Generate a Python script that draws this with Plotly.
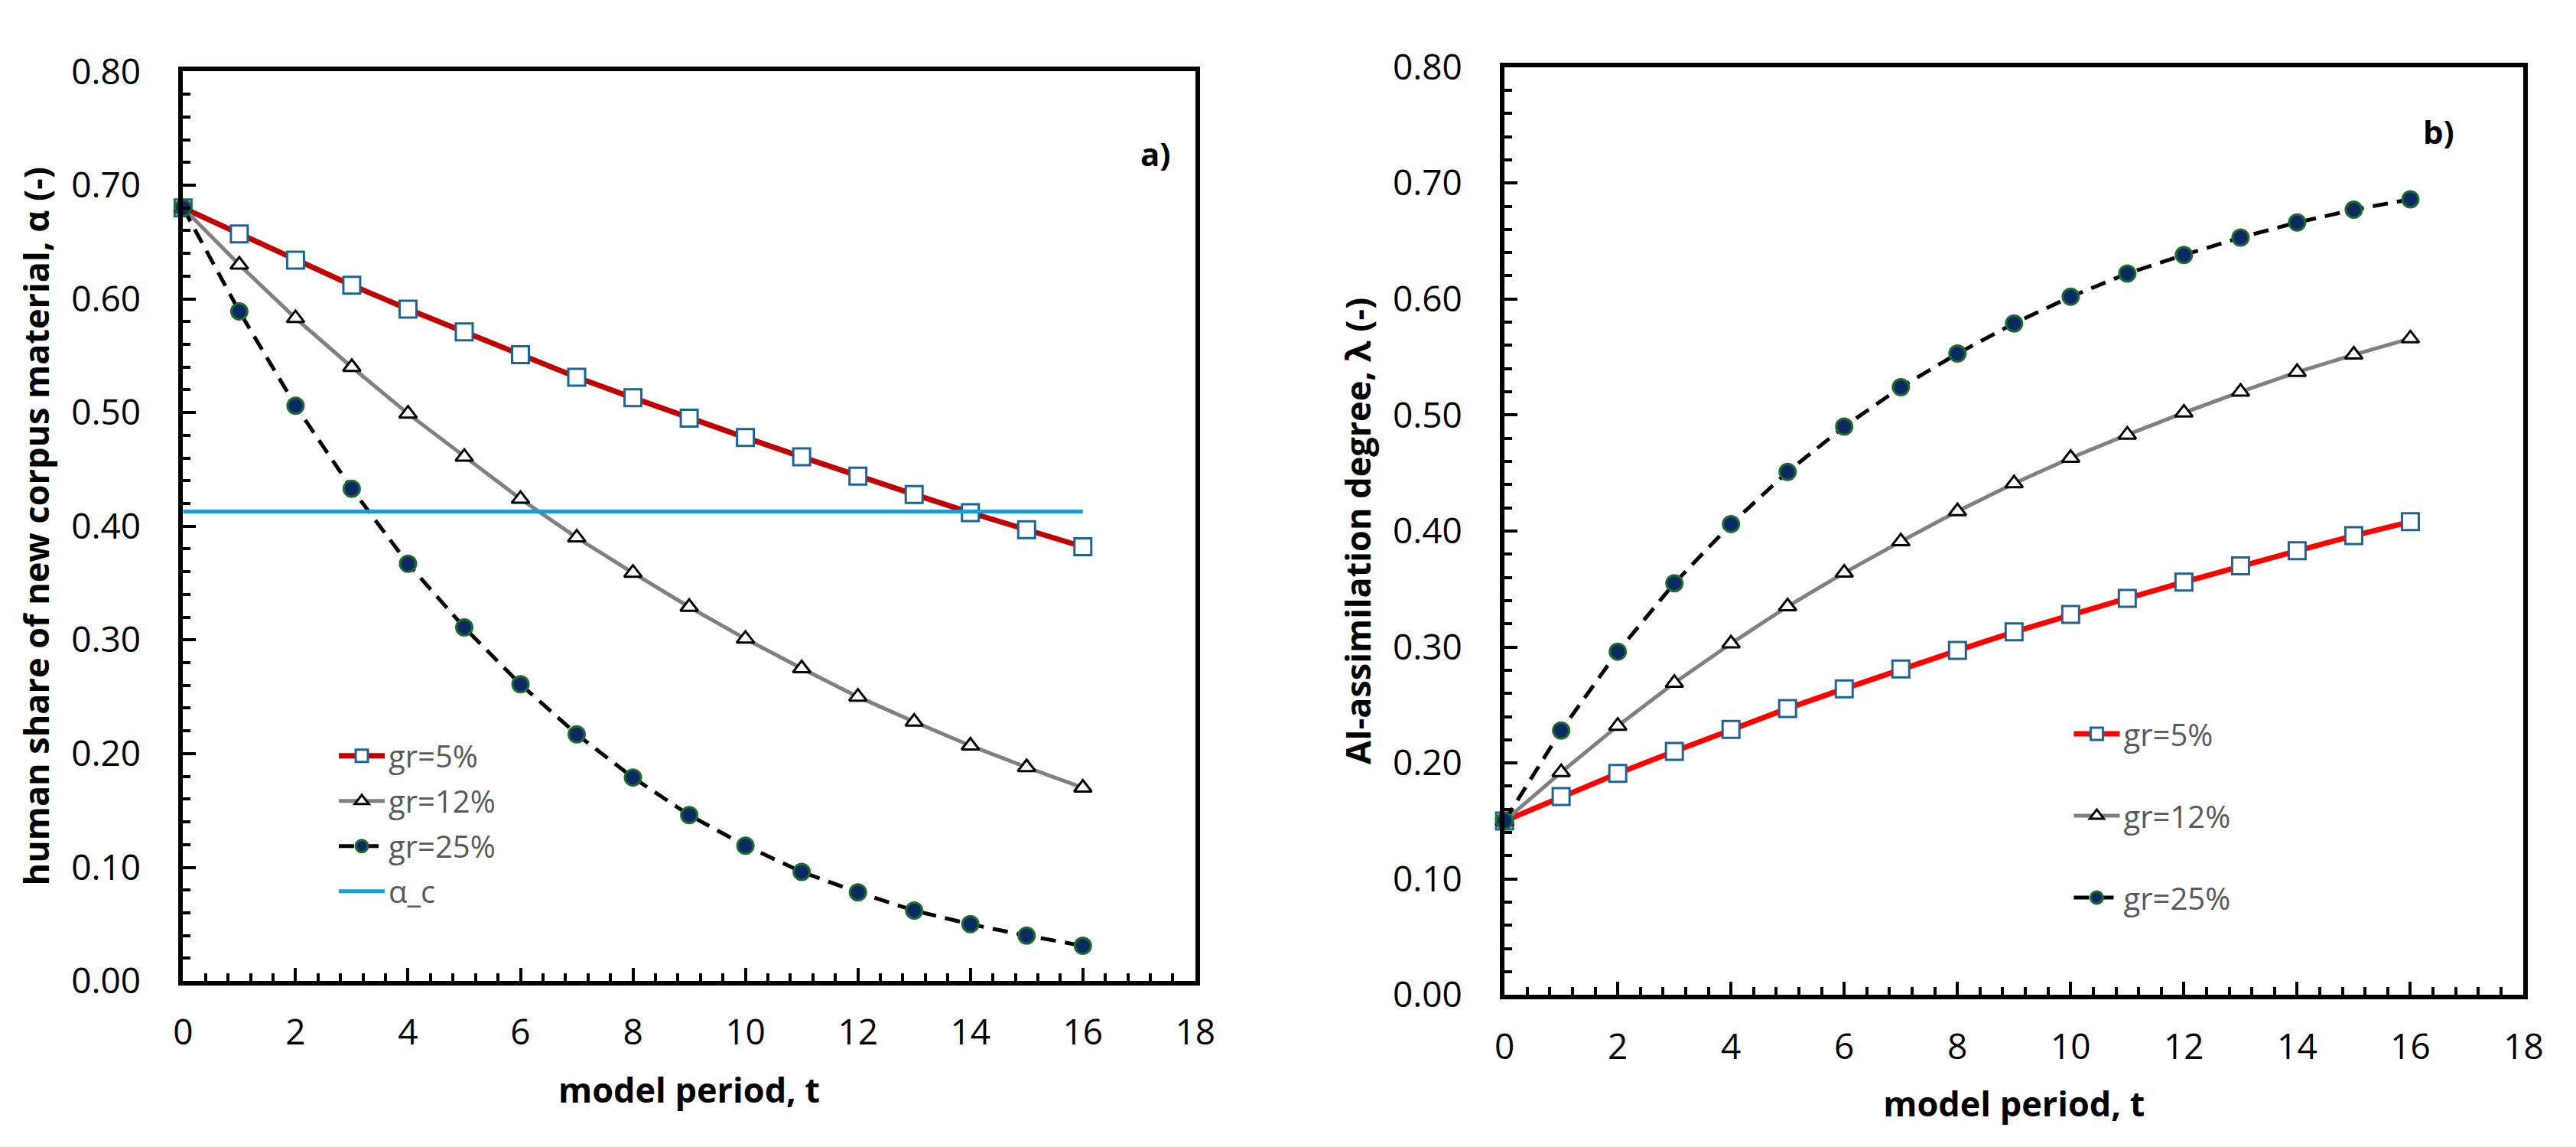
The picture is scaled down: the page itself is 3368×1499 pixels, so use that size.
import plotly.graph_objects as go

t = list(range(17))

alpha_gr5 = [0.680, 0.657, 0.634, 0.612, 0.591, 0.571, 0.551, 0.531, 0.513, 0.495,
             0.478, 0.461, 0.444, 0.428, 0.412, 0.397, 0.382]
alpha_gr12 = [0.680, 0.630, 0.583, 0.540, 0.499, 0.461, 0.424, 0.390, 0.359, 0.329,
              0.301, 0.275, 0.250, 0.228, 0.207, 0.188, 0.170]
alpha_gr25 = [0.680, 0.589, 0.506, 0.433, 0.367, 0.311, 0.261, 0.217, 0.179, 0.146,
              0.119, 0.096, 0.078, 0.062, 0.050, 0.040, 0.031]
alpha_c_t = [0, 16]
alpha_c = [0.413, 0.413]

lam_gr5 = [0.150, 0.171, 0.191, 0.210, 0.229, 0.247, 0.264, 0.281, 0.297, 0.313,
           0.328, 0.342, 0.356, 0.370, 0.383, 0.396, 0.408]
lam_gr12 = [0.150, 0.192, 0.232, 0.269, 0.303, 0.335, 0.364, 0.391, 0.417, 0.441,
            0.463, 0.483, 0.502, 0.520, 0.537, 0.552, 0.566]
lam_gr25 = [0.150, 0.228, 0.296, 0.355, 0.406, 0.451, 0.490, 0.524, 0.553, 0.579,
            0.602, 0.622, 0.638, 0.653, 0.666, 0.677, 0.686]

series_names = ["gr=5%", "gr=12%", "gr=25%"]
alpha_c_name = "α_c"
x_title = "model period, t"
y_title_a = "human share of new corpus material, α (-)"
y_title_b = "AI-assimilation degree, λ (-)"
panel_labels = ["a)", "b)"]

W, H = 3368, 1499
FONT = "Open Sans"

sq_fill = dict(symbol="square", size=22, color="white", line=dict(width=3, color="#1F6391"))
tri_marker = dict(symbol="triangle-up", size=20, color="white", line=dict(width=3, color="black"))
dot_marker = dict(symbol="circle", size=21, color="#0B2A63", line=dict(width=3, color="#1E6B2E"))

fig = go.Figure()

def add_set(xa, ya, y5, y12, y25, red, legend):
    fig.add_trace(go.Scatter(x=t, y=y5, name=series_names[0], mode="lines+markers",
                             line=dict(color=red, width=7), marker=sq_fill,
                             xaxis=xa, yaxis=ya, legend=legend, legendgroup=legend + "a",
                             cliponaxis=False))
    fig.add_trace(go.Scatter(x=t, y=y12, name=series_names[1], mode="lines+markers",
                             line=dict(color="#808080", width=5), marker=tri_marker,
                             xaxis=xa, yaxis=ya, legend=legend, legendgroup=legend + "b",
                             cliponaxis=False))
    fig.add_trace(go.Scatter(x=t, y=y25, name=series_names[2], mode="lines+markers",
                             line=dict(color="black", width=5, dash="20px,12px"), marker=dot_marker,
                             xaxis=xa, yaxis=ya, legend=legend, legendgroup=legend + "c",
                             cliponaxis=False))

add_set("x", "y", alpha_gr5, alpha_gr12, alpha_gr25, "#C00000", "legend")
fig.add_trace(go.Scatter(x=alpha_c_t, y=alpha_c, name=alpha_c_name, mode="lines",
                         line=dict(color="#1B9BD8", width=5), xaxis="x", yaxis="y",
                         legend="legend", legendgroup="legendd", cliponaxis=False))
add_set("x2", "y2", lam_gr5, lam_gr12, lam_gr25, "#FF0000", "legend2")

TICKF = 46
TITLEF = 45

def xaxis(domain, anchor):
    return dict(domain=domain, anchor=anchor, range=[0, 18], dtick=2, tick0=0,
                showline=True, linewidth=6, linecolor="black", mirror=True,
                ticks="inside", ticklen=17, tickwidth=4, tickcolor="black",
                minor=dict(dtick=0.4, tick0=0, ticks="inside", ticklen=10, tickwidth=4, tickcolor="black"),
                showgrid=False, zeroline=False,
                tickfont=dict(family=FONT, size=TICKF, color="black"),
                title=dict(text=x_title, font=dict(family=FONT, size=TITLEF, color="black", weight="bold"),
                           standoff=34),
                ticklabelstandoff=22)

def yaxis(domain, anchor, title):
    return dict(domain=domain, anchor=anchor, range=[0, 0.8], dtick=0.1, tick0=0,
                tickformat=".2f",
                showline=True, linewidth=6, linecolor="black", mirror=True,
                ticks="inside", ticklen=17, tickwidth=4, tickcolor="black",
                minor=dict(dtick=0.02, tick0=0, ticks="inside", ticklen=10, tickwidth=4, tickcolor="black"),
                showgrid=False, zeroline=False,
                tickfont=dict(family=FONT, size=TICKF, color="black"),
                title=dict(text=title, font=dict(family=FONT, size=TITLEF, color="black", weight="bold"),
                           standoff=16),
                ticklabelstandoff=40)

legend_common = dict(bgcolor="rgba(0,0,0,0)", font=dict(family=FONT, size=40, color="#595959"),
                     xanchor="left", yanchor="top", traceorder="grouped", itemwidth=60)

fig.update_layout(
    width=W, height=H,
    margin=dict(l=0, r=0, t=0, b=0),
    paper_bgcolor="white", plot_bgcolor="white",
    xaxis=xaxis([229 / W, 1568 / W], "y"),
    yaxis=yaxis([1 - 1303 / H, 1 - 63 / H], "x", y_title_a),
    xaxis2=xaxis([1977 / W, 3325 / W], "y2"),
    yaxis2=yaxis([1 - 1322 / H, 1 - 57 / H], "x2", y_title_b),
    legend=dict(x=430 / W, y=1 - 962 / H, tracegroupgap=4, **legend_common),
    legend2=dict(x=2725 / W, y=1 - 932 / H, tracegroupgap=52, **legend_common),
    annotations=[
        dict(text=panel_labels[0], x=17.3, y=0.728, xref="x", yref="y", showarrow=False,
             font=dict(family=FONT, size=42, color="black", weight="bold")),
        dict(text=panel_labels[1], x=16.5, y=0.745, xref="x2", yref="y2", showarrow=False,
             font=dict(family=FONT, size=42, color="black", weight="bold")),
    ],
)

fig.write_html("out.html")
